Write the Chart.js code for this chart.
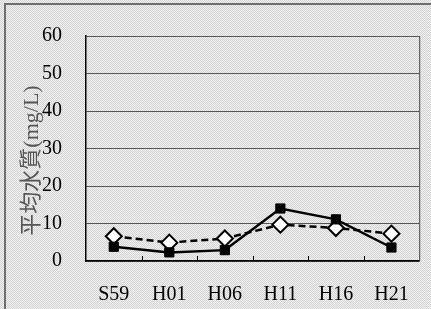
<!DOCTYPE html>
<html>
<head>
<meta charset="utf-8">
<script src="https://cdn.jsdelivr.net/npm/chart.js@4/dist/chart.umd.min.js"></script>
<style>
html,body{margin:0;padding:0;background:#e3e3e3;}
#wrap{width:431px;height:309px;position:relative;}
</style>
</head>
<body>
<div id="wrap"><canvas id="c" width="431" height="309"></canvas></div>
<script>
const categories = ['S59', 'H01', 'H06', 'H11', 'H16', 'H21'];
const seriesSolid = [3.8, 2.3, 2.9, 14.0, 11.1, 3.6];
const seriesDashed = [6.6, 4.9, 6.0, 9.7, 8.8, 7.3];
const yTicks = [0, 10, 20, 30, 40, 50, 60];
const yTitle = '平均水質(mg/L)';

const serif = '"Liberation Serif", "DejaVu Serif", "Noto Sans CJK JP", serif';

function makePattern(ctx) {
  const p = document.createElement('canvas');
  p.width = 2; p.height = 2;
  const pc = p.getContext('2d');
  pc.fillStyle = '#f0f0f0'; pc.fillRect(0, 0, 2, 2);
  pc.fillStyle = '#d4d4d4'; pc.fillRect(0, 0, 1, 1); pc.fillRect(1, 1, 1, 1);
  return ctx.createPattern(p, 'repeat');
}

const bgPlugin = {
  id: 'bg',
  beforeDraw(chart) {
    const ctx = chart.ctx;
    ctx.save();
    ctx.fillStyle = makePattern(ctx);
    ctx.fillRect(0, 0, chart.width, chart.height);
    ctx.strokeStyle = '#707070';
    ctx.lineWidth = 2;
    ctx.strokeRect(5, 4, chart.width + 20, chart.height + 20);
    ctx.restore();
  }
};

const yTitlePlugin = {
  id: 'yTitle',
  afterDraw(chart) {
    const ctx = chart.ctx, a = chart.chartArea;
    ctx.save();
    ctx.translate(32, (a.top + a.bottom) / 2 + 12);
    ctx.rotate(-Math.PI / 2);
    ctx.fillStyle = '#555';
    ctx.font = '22px ' + serif;
    ctx.textAlign = 'center';
    ctx.textBaseline = 'middle';
    ctx.fillText(yTitle, 0, 0);
    ctx.restore();
  }
};

const frameTicksPlugin = {
  id: 'frameTicks',
  afterDatasetsDraw(chart) {
    const ctx = chart.ctx, a = chart.chartArea, x = chart.scales.x;
    ctx.save();
    ctx.strokeStyle = '#000';
    ctx.lineWidth = 1;
    for (let i = 1; i < categories.length; i++) {
      const px = Math.round((x.getPixelForValue(i - 1) + x.getPixelForValue(i)) / 2) + 0.5;
      ctx.beginPath();
      ctx.moveTo(px, a.bottom);
      ctx.lineTo(px, a.bottom - 5);
      ctx.stroke();
    }
    ctx.strokeStyle = '#444';
    ctx.beginPath();
    ctx.moveTo(a.right + 0.5, a.top);
    ctx.lineTo(a.right + 0.5, a.bottom);
    ctx.stroke();
    ctx.restore();
  }
};

new Chart(document.getElementById('c'), {
  type: 'line',
  data: {
    labels: categories,
    datasets: [
      {
        data: seriesDashed,
        borderColor: '#000',
        borderWidth: 2.5,
        borderDash: [7, 4],
        pointStyle: 'rectRot',
        pointRadius: 8,
        pointBackgroundColor: '#fff',
        pointBorderColor: '#000',
        pointBorderWidth: 2,
        tension: 0,
        order: 2
      },
      {
        data: seriesSolid,
        borderColor: '#000',
        borderWidth: 2.5,
        pointStyle: 'rect',
        pointRadius: 6.5,
        pointBackgroundColor: '#000',
        pointBorderColor: '#000',
        pointBorderWidth: 1,
        tension: 0,
        order: 1
      }
    ]
  },
  options: {
    responsive: false,
    animation: false,
    events: [],
    layout: { autoPadding: false, padding: { left: 0, top: 34, right: 4, bottom: 0 } },
    plugins: { legend: { display: false }, tooltip: { enabled: false } },
    scales: {
      x: {
        offset: true,
        grid: { display: false, drawTicks: false },
        border: { display: true, color: '#000', width: 1.5 },
        ticks: { color: '#000', font: { family: serif, size: 20 }, padding: 22, maxRotation: 0 },
        afterFit(s) { s.height = 48; }
      },
      y: {
        min: 0, max: 60,
        afterBuildTicks(s) { s.ticks = yTicks.map(v => ({ value: v })); },
        grid: { color: '#555', lineWidth: 1, drawTicks: false },
        border: { display: true, color: '#000', width: 1.5 },
        ticks: { color: '#000', font: { family: serif, size: 20 }, padding: 24 },
        afterFit(s) { s.width = 86; }
      }
    }
  },
  plugins: [bgPlugin, frameTicksPlugin, yTitlePlugin]
});
</script>
</body>
</html>
